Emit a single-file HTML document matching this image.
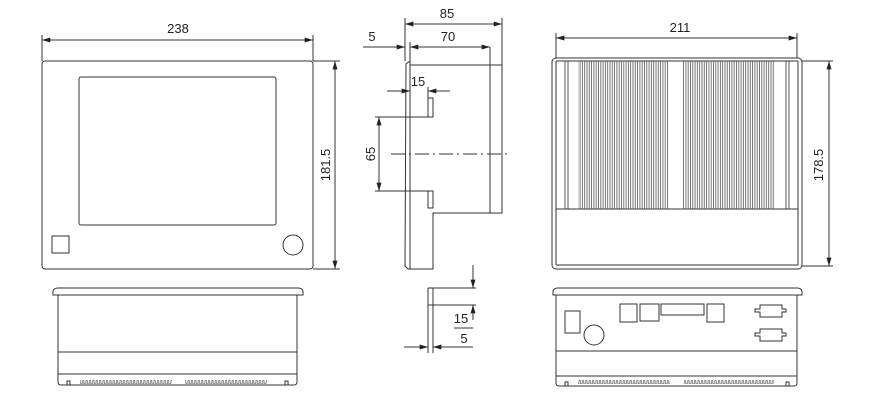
<!DOCTYPE html>
<html><head><style>body{margin:0;background:#fff}svg{display:block}text{font-family:"Liberation Sans",sans-serif;font-size:13px;fill:#222}</style></head>
<body>
<svg width="869" height="406" viewBox="0 0 869 406" xmlns="http://www.w3.org/2000/svg">
<defs>
<marker id="a" viewBox="0 0 10 6" refX="10" refY="3" markerWidth="9" markerHeight="5" orient="auto-start-reverse"><path d="M0,0L10,3L0,6z" fill="#222"/></marker>
<pattern id="fin" width="2.3" height="10" patternUnits="userSpaceOnUse"><line x1="0.5" y1="0" x2="0.5" y2="10" stroke="#555" stroke-width="0.8"/></pattern>
<pattern id="tooth" x="0" y="0" width="3.4" height="6" patternUnits="userSpaceOnUse"><path d="M0,5.5 H0.9 V2.8 Q1.6,1.8 2.3,2.8 V5.5 H3.4" fill="none" stroke="#444" stroke-width="0.6"/></pattern>
</defs>
<g fill="none" stroke="#333" stroke-width="1">
<rect x="42" y="61" width="271" height="208" rx="3"/>
<rect x="79" y="77" width="197" height="148" rx="2"/>
<rect x="52" y="236" width="17" height="17"/>
<circle cx="293" cy="245" r="10"/>
<line x1="42" y1="35" x2="42" y2="61"/><line x1="313" y1="35" x2="313" y2="61"/>
<line x1="42" y1="40" x2="313" y2="40" marker-start="url(#a)" marker-end="url(#a)"/>
<line x1="313" y1="61" x2="340" y2="61"/><line x1="313" y1="269" x2="340" y2="269"/>
<line x1="335" y1="61" x2="335" y2="269" marker-start="url(#a)" marker-end="url(#a)"/>
<path d="M53,295 L53,291 Q54,288 58,288 L298,288 Q302,288 303,291 L303,295 Z"/>
<path d="M58,295 L58,374 M297,295 L297,374 M58,352 L297,352 M58,374 L297,374"/>
<path d="M58,374 L58,382 Q58,385 61,385 L294,385 Q297,385 297,382 L297,374"/>
<rect x="80" y="379" width="92" height="6" fill="url(#tooth)" stroke="none"/>
<rect x="185" y="379" width="82" height="6" fill="url(#tooth)" stroke="none"/>
<path d="M67,385 L67,381 L70,381 L70,385 M285,385 L285,381 L288,381 L288,385"/>
<path d="M410,61 L406,64 L405,266 L408,269 L433,269 L433,213 L502,213 L502,65 L410,65"/>
<line x1="410" y1="61" x2="410" y2="269"/>
<line x1="490" y1="47" x2="490" y2="213"/>
<rect x="428" y="98" width="5" height="19"/>
<rect x="428" y="191" width="5" height="17"/>
<line x1="375" y1="117" x2="433" y2="117"/><line x1="375" y1="191" x2="428" y2="191"/>
<line x1="379" y1="117" x2="379" y2="191" marker-start="url(#a)" marker-end="url(#a)"/>
<line x1="391" y1="154" x2="510" y2="154" stroke-dasharray="14,4,2,4"/>
<line x1="405" y1="18" x2="405" y2="61"/><line x1="502" y1="18" x2="502" y2="65"/>
<line x1="405" y1="24" x2="502" y2="24" marker-start="url(#a)" marker-end="url(#a)"/>
<line x1="410" y1="42" x2="410" y2="61"/>
<line x1="410" y1="47" x2="490" y2="47" marker-start="url(#a)" marker-end="url(#a)"/>
<line x1="363" y1="47" x2="405" y2="47" marker-end="url(#a)"/>
<line x1="428" y1="87" x2="428" y2="98"/>
<line x1="387" y1="91" x2="410" y2="91" marker-end="url(#a)"/>
<line x1="450" y1="91" x2="428" y2="91" marker-end="url(#a)"/>
<path d="M428,288 L428,353 M433,288 L433,353 M428,288 L476,288 M428,305 L476,305"/>
<line x1="473" y1="265" x2="473" y2="288" marker-end="url(#a)"/>
<line x1="473" y1="320" x2="473" y2="305" marker-end="url(#a)"/>
<line x1="454" y1="328" x2="473" y2="328"/>
<line x1="404" y1="347" x2="428" y2="347" marker-end="url(#a)"/>
<line x1="473" y1="347" x2="433" y2="347" marker-end="url(#a)"/>
<rect x="552" y="58" width="250" height="211" rx="4"/>
<line x1="556" y1="61" x2="798" y2="61"/><line x1="556" y1="265" x2="798" y2="265"/>
<line x1="556" y1="61" x2="556" y2="265"/><line x1="798" y1="61" x2="798" y2="265"/>
<line x1="556" y1="209" x2="798" y2="209"/>
<rect x="578" y="61" width="91" height="148" fill="url(#fin)" stroke="none"/>
<rect x="683" y="61" width="92" height="148" fill="url(#fin)" stroke="none"/>
<path d="M565,61V209M568,61V209M786,61V209M789,61V209" stroke-width="0.8"/>
<line x1="556" y1="33" x2="556" y2="58"/><line x1="797" y1="33" x2="797" y2="58"/>
<line x1="556" y1="38" x2="797" y2="38" marker-start="url(#a)" marker-end="url(#a)"/>
<line x1="802" y1="61" x2="833" y2="61"/><line x1="802" y1="266" x2="833" y2="266"/>
<line x1="829" y1="61" x2="829" y2="266" marker-start="url(#a)" marker-end="url(#a)"/>
<path d="M553,295 L553,291 Q554,288 558,288 L797,288 Q801,288 802,291 L802,295 Z"/>
<path d="M556,295 L556,376 M797,295 L797,376 M556,351 L797,351 M556,376 L797,376"/>
<path d="M556,376 L556,383 Q556,386 559,386 L794,386 Q797,386 797,383 L797,376"/>
<rect x="578" y="380" width="92" height="6" fill="url(#tooth)" stroke="none"/>
<rect x="684" y="380" width="90" height="6" fill="url(#tooth)" stroke="none"/>
<path d="M565,386 L565,382 L568,382 L568,386 M786,386 L786,382 L789,382 L789,386"/>
<rect x="565" y="311" width="15" height="22"/>
<circle cx="594" cy="335" r="10"/>
<rect x="620" y="304" width="17" height="18"/>
<rect x="640" y="304" width="19" height="17"/>
<rect x="661" y="304" width="43" height="11"/>
<rect x="707" y="304" width="17" height="18"/>
<path d="M760,305 L782,305 L782,309 L786,309 L786,312 L782,312 L782,317 L760,317 L760,312 L755,312 L755,309 L760,309 Z"/>
<path d="M760,329 L782,329 L782,333 L786,333 L786,336 L782,336 L782,341 L760,341 L760,336 L755,336 L755,333 L760,333 Z"/>
</g>
<text x="178" y="33" text-anchor="middle">238</text>
<text transform="translate(330,165) rotate(-90)" text-anchor="middle">181.5</text>
<text x="447" y="18" text-anchor="middle">85</text>
<text x="448" y="41" text-anchor="middle">70</text>
<text x="372" y="41" text-anchor="middle">5</text>
<text x="418" y="86" text-anchor="middle">15</text>
<text transform="translate(375,154) rotate(-90)" text-anchor="middle">65</text>
<text x="461" y="323" text-anchor="middle">15</text>
<text x="464" y="343" text-anchor="middle">5</text>
<text x="680" y="32" text-anchor="middle">211</text>
<text transform="translate(823,165) rotate(-90)" text-anchor="middle">178.5</text>
</svg>
</body></html>
